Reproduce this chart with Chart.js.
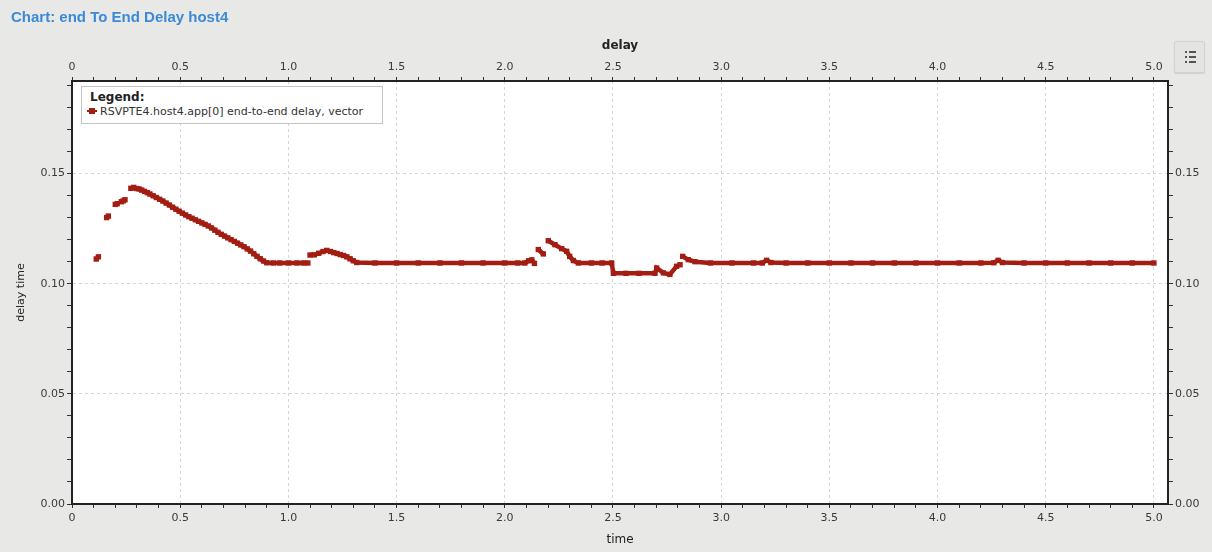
<!DOCTYPE html>
<html><head><meta charset="utf-8">
<script src="https://cdn.jsdelivr.net/npm/chart.js@4/dist/chart.umd.min.js"></script>
<style>
html,body{margin:0;padding:0;background:#e8e8e6;width:1212px;height:552px;overflow:hidden;}
#c{position:absolute;left:0;top:0;}
#title{position:absolute;left:11px;top:8px;font:bold 15px "Liberation Sans",Arial,sans-serif;color:#3a8ad6;white-space:nowrap;}
#legend{position:absolute;left:81px;top:86px;width:302px;height:38px;border:1px solid #c4c4c4;background:#fff;box-sizing:border-box;font-family:"DejaVu Sans",sans-serif;color:#222;}
#legend .hd{position:absolute;left:8px;top:3px;font-weight:bold;font-size:12px;}
#legend .it{position:absolute;left:18px;top:18px;font-size:11px;white-space:nowrap;color:#333;}
#legend .ln{position:absolute;left:5px;top:23px;width:10px;height:2px;background:#a31d12;}
#legend .sq{position:absolute;left:7px;top:21px;width:6px;height:6px;background:#a31d12;}
#btn{position:absolute;left:1174px;top:41px;width:31px;height:32px;box-sizing:border-box;border:1px solid #d2d2d0;border-radius:2px;background:#e4e4e2;box-shadow:0 1px 1px #cfcfcd;}
#btn i{position:absolute;background:#555;height:2px;}
</style>
</head><body>
<canvas id="c" width="1212" height="552"></canvas>
<div id="title">Chart: end To End Delay host4</div>
<div id="legend"><div class="hd">Legend:</div><div class="ln"></div><div class="sq"></div><div class="it">RSVPTE4.host4.app[0] end-to-end delay, vector</div></div>
<div id="btn">
<i style="left:10px;top:9px;width:2px"></i><i style="left:14px;top:9px;width:7px"></i>
<i style="left:10px;top:14px;width:2px"></i><i style="left:14px;top:14px;width:7px"></i>
<i style="left:10px;top:19px;width:2px"></i><i style="left:14px;top:19px;width:7px"></i>
</div>
<script>
// ---- data ----
const seriesName = 'RSVPTE4.host4.app[0] end-to-end delay, vector';
const times = [
  0.112, 0.122, 0.140,
  0.160, 0.168, 0.185,
  0.200, 0.209, 0.218,
  0.228, 0.237, 0.245, 0.258,
  0.272, 0.285, 0.298, 0.310, 0.322, 0.335, 0.348, 0.360, 0.375, 0.390,
  0.405, 0.420, 0.435, 0.450, 0.465, 0.480, 0.495, 0.510, 0.525, 0.540,
  0.555, 0.570, 0.585, 0.600, 0.615, 0.630, 0.645, 0.660, 0.675, 0.690,
  0.705, 0.720, 0.735, 0.750, 0.765, 0.780, 0.795, 0.810, 0.825, 0.840,
  0.855, 0.870, 0.885, 0.900,
  0.930, 0.960, 1.000, 1.040, 1.070, 1.090, 1.095,
  1.100, 1.120, 1.140, 1.160, 1.177, 1.195, 1.210, 1.225, 1.240, 1.255,
  1.270, 1.285, 1.300, 1.316,
  1.400, 1.500, 1.600, 1.700, 1.800, 1.900, 2.000, 2.060, 2.093,
  2.110, 2.125, 2.137, 2.146,
  2.155, 2.178, 2.190,
  2.201, 2.232, 2.263, 2.286, 2.300, 2.317, 2.340,
  2.400, 2.450, 2.494, 2.502, 2.560, 2.620, 2.694,
  2.702, 2.733, 2.763, 2.794, 2.810, 2.816,
  2.822, 2.848, 2.879, 2.950,
  3.050, 3.150, 3.190, 3.210, 3.230, 3.300, 3.400, 3.500, 3.600, 3.700,
  3.800, 3.900, 4.000, 4.100, 4.200, 4.260, 4.280, 4.300, 4.400, 4.500,
  4.600, 4.700, 4.800, 4.900, 5.000
];
const delays = [
  0.1112, 0.1122, null,
  0.1300, 0.1307, null,
  0.1360, 0.1363, null,
  0.1372, 0.1376, 0.1381, null,
  0.1433, 0.1437, 0.1432, 0.1430, 0.1425, 0.1419, 0.1413, 0.1407, 0.1399, 0.1391,
  0.1383, 0.1375, 0.1366, 0.1357, 0.1347, 0.1338, 0.1329, 0.1320, 0.1312, 0.1304,
  0.1297, 0.1290, 0.1283, 0.1276, 0.1269, 0.1262, 0.1253, 0.1243, 0.1233, 0.1224,
  0.1216, 0.1208, 0.1200, 0.1192, 0.1184, 0.1176, 0.1168, 0.1158, 0.1148, 0.1136,
  0.1124, 0.1113, 0.1103, 0.1095,
  0.1094, 0.1094, 0.1094, 0.1094, 0.1094, 0.1094, null,
  0.1130, 0.1131, 0.1138, 0.1146, 0.1151, 0.1146, 0.1141, 0.1137, 0.1132, 0.1128,
  0.1122, 0.1113, 0.1104, 0.1096,
  0.1094, 0.1094, 0.1094, 0.1094, 0.1094, 0.1094, 0.1094, 0.1094, 0.1094,
  0.1104, 0.1108, 0.1092, null,
  0.1155, 0.1135, null,
  0.1195, 0.1177, 0.1159, 0.1147, 0.1124, 0.1105, 0.1094,
  0.1094, 0.1094, 0.1094, 0.1047, 0.1047, 0.1047, 0.1047,
  0.1071, 0.1049, 0.1042, 0.1079, 0.1086, null,
  0.1124, 0.1109, 0.1100, 0.1094,
  0.1094, 0.1094, 0.1094, 0.1106, 0.1096, 0.1094, 0.1094, 0.1094, 0.1094, 0.1094,
  0.1094, 0.1094, 0.1094, 0.1094, 0.1094, 0.1095, 0.1106, 0.1096, 0.1094, 0.1094,
  0.1094, 0.1094, 0.1094, 0.1094, 0.1094
];
const xTickLabels = ['0','0.5','1.0','1.5','2.0','2.5','3.0','3.5','4.0','4.5','5.0'];
const yTickLabels = ['0.00','0.05','0.10','0.15'];
const xTitleBottom = 'time';
const xTitleTop = 'delay';
const yTitle = 'delay time';

// ---- helpers ----
const X_MAJOR = 0.5, Y_MAJOR = 0.05;
function isMajor(v, step){ const k = v/step; return Math.abs(k-Math.round(k)) < 1e-6; }
function xLab(v){ return isMajor(v, X_MAJOR) ? (xTickLabels[Math.round(v/X_MAJOR)] ?? '') : ''; }
function yLab(v){ return isMajor(v, Y_MAJOR) ? (yTickLabels[Math.round(v/Y_MAJOR)] ?? '') : ''; }
const GRID = '#d6d6d6', NONE = 'rgba(0,0,0,0)', AX = '#222', TXT = '#3a3a3a';
const FONT = '"DejaVu Sans", sans-serif';

const plotBg = {
  id: 'plotBg',
  beforeDraw(chart){
    const {ctx, chartArea:a} = chart;
    ctx.save(); ctx.fillStyle = '#fff';
    ctx.fillRect(a.left, a.top, a.right-a.left, a.bottom-a.top);
    ctx.restore();
  }
};

function xAxis(pos, height, title, bold, pad, tpad, onArea){
  return {
    type:'linear', position:pos, min:0, max:5.065,
    ticks:{stepSize:0.1, autoSkip:false, includeBounds:false, maxRotation:0, minRotation:0,
      padding:pad, color:TXT, font:{family:FONT, size:11}, callback:(v)=>xLab(v)},
    grid:{drawOnChartArea:onArea, drawTicks:true, tickLength:4, tickColor:'#333', tickWidth:1,
      color:(c)=> (c.tick && c.tick.value > 0 && isMajor(c.tick.value, X_MAJOR)) ? GRID : NONE},
    border:{display:true, color:AX, width:2, dash:[3,3]},
    title:{display:true, text:title, color:'#222', font:{family:FONT, size:12, weight: bold ? 'bold' : 'normal'}, padding:tpad},
    afterFit:(s)=>{ s.height = height; }
  };
}
function yAxis(pos, width, showTitle, onArea){
  return {
    type:'linear', position:pos, min:0, max:0.192,
    ticks:{stepSize:0.01, autoSkip:false, includeBounds:false, padding:2, color:TXT,
      font:{family:FONT, size:11}, callback:(v)=>yLab(v)},
    grid:{drawOnChartArea:onArea, drawTicks:true, tickLength:5, tickColor:'#333', tickWidth:1,
      color:(c)=> (c.tick && c.tick.value > 0 && isMajor(c.tick.value, Y_MAJOR)) ? GRID : NONE},
    border:{display:true, color:AX, width:2, dash:[3,3]},
    title:{display:showTitle, text:yTitle, color:'#222', font:{family:FONT, size:11}, padding:{top:15, bottom:0}},
    afterFit:(s)=>{ s.width = width; }
  };
}

new Chart(document.getElementById('c'), {
  type:'line',
  data:{ datasets:[{
    label: seriesName,
    data: times.map((t,i)=>({x:t, y:delays[i]})),
    xAxisID:'x', yAxisID:'y',
    borderColor:'#a31d12', backgroundColor:'#a31d12',
    borderWidth:4.5, pointStyle:'rect', pointRadius:3.8, pointBorderWidth:0,
    pointBackgroundColor:'#a31d12', spanGaps:false, tension:0
  }]},
  options:{
    responsive:false, animation:false, devicePixelRatio:1,
    layout:{padding:0},
    plugins:{legend:{display:false}, tooltip:{enabled:false}, title:{display:false}},
    scales:{
      x: xAxis('bottom', 48, xTitleBottom, false, 4, {top:0, bottom:5}, true),
      x2: xAxis('top', 81, xTitleTop, true, 3, {top:39, bottom:0}, false),
      y: yAxis('left', 72, true, true),
      y2: yAxis('right', 44, false, false)
    }
  },
  plugins:[plotBg]
});
</script>
</body></html>
